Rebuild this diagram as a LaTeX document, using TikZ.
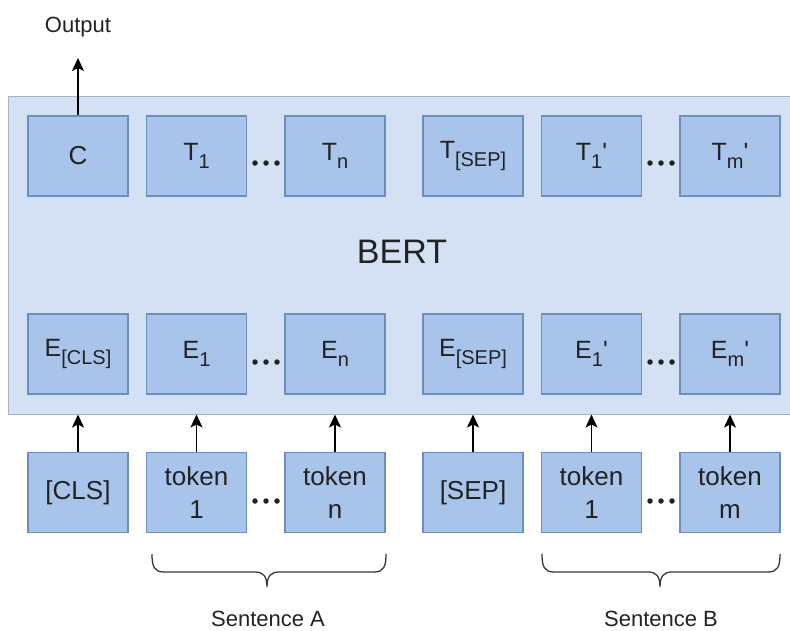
\documentclass[tikz,border=0pt]{standalone}
\usepackage{fontspec}
\setmainfont{Liberation Sans}[Ligatures=TeXOff]
\usetikzlibrary{arrows.meta}

\definecolor{bertfill}{HTML}{D4E1F5}
\definecolor{bertline}{HTML}{A9B3C6}
\definecolor{cellfill}{HTML}{A9C4EB}
\definecolor{cellline}{HTML}{6C8EBF}
\definecolor{ink}{HTML}{222222}

% lowered, smaller index text used in the T and E labels
\newcommand\lowsub[1]{\raisebox{-0.3em}{\fontsize{20}{20}\selectfont #1}}

\begin{document}
\begin{tikzpicture}[x=1pt,y=-1pt,
  cell/.style={draw=cellline, fill=cellfill, line width=1.3pt,
    minimum width=100pt, minimum height=80pt, inner sep=0pt,
    text=ink, align=center, font=\fontsize{26}{33}\selectfont},
  idxcell/.style={cell, font=\fontsize{25}{28}\selectfont},
  bertbox/.style={draw=bertline, fill=bertfill, line width=1pt, inner sep=0pt},
  arr/.style={draw=black, line width=1.6pt, -{Stealth[length=13pt,width=12pt,inset=3pt]}},
  brace/.style={draw=ink!90, line width=1.3pt},
  caption/.style={text=ink, font=\fontsize{22}{26}\selectfont},
  dot/.style={circle, fill=ink, inner sep=0pt, minimum size=5.5pt}
]
\useasboundingbox (0,0) rectangle (790,630);

% encoder block
\node[bertbox, minimum width=785pt, minimum height=318pt] (bert) at (400.5,255) {};
\node[text=ink, font=\fontsize{34}{40}\selectfont] (bertlbl) at (402,252) {BERT};

% output row
\node[cell] (c)    at (78,156)    {C};
\node[idxcell] (t1)   at (196.5,156) {T\lowsub{1}};
\node[idxcell] (tn)   at (335,156)   {T\lowsub{n}};
\node[idxcell] (tsep) at (473,156)   {T\lowsub{[SEP]}};
\node[idxcell] (t1b)  at (591.5,156) {T\lowsub{1}'};
\node[idxcell] (tmb)  at (730,156)   {T\lowsub{m}'};

% embedding row
\node[idxcell] (ecls) at (78,354)    {E\lowsub{[CLS]}};
\node[idxcell] (e1)   at (196.5,354) {E\lowsub{1}};
\node[idxcell] (en)   at (335,354)   {E\lowsub{n}};
\node[idxcell] (esep) at (473,354)   {E\lowsub{[SEP]}};
\node[idxcell] (e1b)  at (591.5,354) {E\lowsub{1}'};
\node[idxcell] (emb)  at (730,354)   {E\lowsub{m}'};

% input tokens
\node[cell] (cls)  at (78,492.5)    {[CLS]};
\node[cell] (tok1) at (196.5,492.5) {token\\1};
\node[cell] (tokn) at (335,492.5)   {token\\n};
\node[cell] (sep)  at (473,492.5)   {[SEP]};
\node[cell] (tok1b) at (591.5,492.5) {token\\1};
\node[cell] (tokm) at (730,492.5)   {token\\m};

% ellipses between cells
\foreach \y/\r in {163/a,362/b,501/c}{
  \foreach \x/\s in {255/1,266/2,277/3}{
    \node[dot] (dl\r\s) at (\x,\y) {};
  }
  \foreach \x/\s in {650/1,661/2,672/3}{
    \node[dot] (dr\r\s) at (\x,\y) {};
  }
}

% arrows
\coordinate (out) at (78,58);
\node[caption] (outlbl) at (78,27) {Output};
\draw[arr] (c.north) -- (out);
\foreach \n in {cls,tok1,tokn,sep,tok1b,tokm}{
  \draw[arr] (\n.north) -- (\n.north |- bert.south);
}

% sentence braces
\draw[brace] (152,554) .. controls (152,566) and (154,572) .. (164,572) -- (255,572)
  .. controls (263,572) and (267,576) .. (267,587)
  .. controls (267,576) and (271,572) .. (279,572) -- (374,572)
  .. controls (384,572) and (386,566) .. (386,554);
\draw[brace] (542,554) .. controls (542,566) and (544,572) .. (554,572) -- (648,572)
  .. controls (656,572) and (660,576) .. (660,587)
  .. controls (660,576) and (664,572) .. (672,572) -- (768,572)
  .. controls (778,572) and (780,566) .. (780,554);
\node[caption] (senta) at (268,619) {Sentence A};
\node[caption] (sentb) at (661,619) {Sentence B};
\end{tikzpicture}
\end{document}
